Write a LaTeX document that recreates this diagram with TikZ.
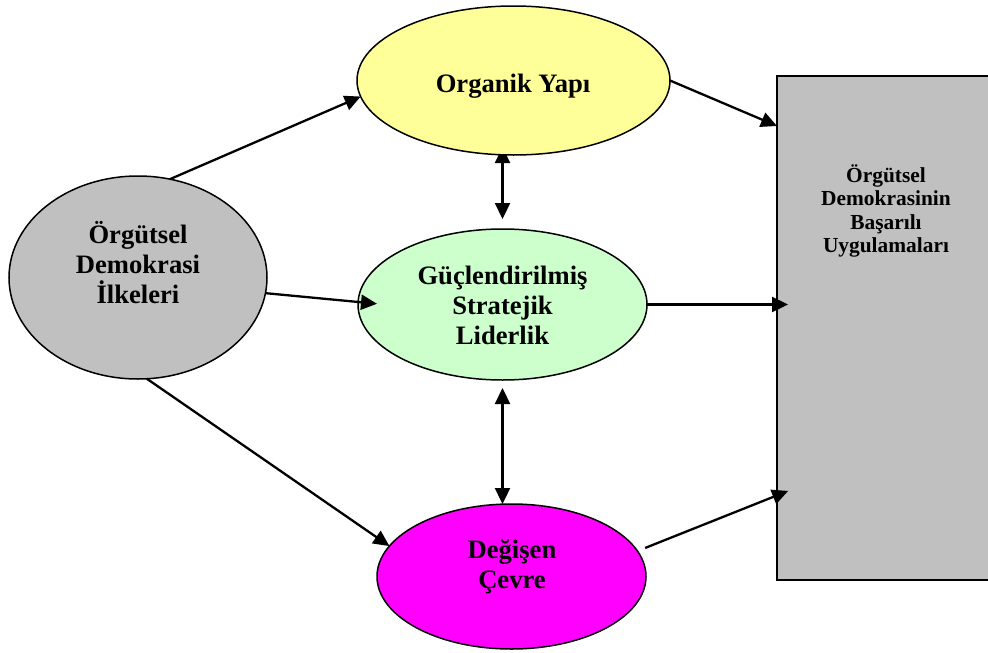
\documentclass[tikz,border=0pt]{standalone}
\usepackage{fontspec}
\setmainfont{Liberation Serif}
\usetikzlibrary{shapes.geometric,arrows.meta,backgrounds}
\definecolor{ilkegray}{HTML}{C0C0C0}
\definecolor{organikyellow}{HTML}{FFFF99}
\definecolor{liderlikgreen}{HTML}{CCFFCC}
\definecolor{cevremagenta}{HTML}{FF00FF}
\begin{document}
\begin{tikzpicture}[x=1pt,y=-1pt,
  bubble/.style={ellipse,draw=black,line width=1.5pt,inner sep=0pt,outer sep=0pt},
  caption/.style={font=\bfseries\fontsize{26.6}{30}\selectfont,align=center,inner sep=0pt},
  smallcaption/.style={font=\bfseries\fontsize{21.4}{23.5}\selectfont,align=center,inner sep=0pt},
  link/.style={line width=2.3pt,-{Triangle[length=16pt,width=15pt]}},
  twoway/.style={line width=2.3pt,{Triangle[length=16pt,width=15pt]}-{Triangle[length=16pt,width=15pt]}}]
\useasboundingbox (0,0) rectangle (988,653);

% ellipses
\node[bubble,fill=ilkegray,minimum width=258pt,minimum height=203pt] (ilke) at (138,277.5) {};
\node[bubble,fill=organikyellow,minimum width=313pt,minimum height=149pt] (organik) at (513.5,80.5) {};
\node[bubble,fill=liderlikgreen,minimum width=289pt,minimum height=151pt] (liderlik) at (502.5,304.5) {};
\node[bubble,fill=cevremagenta,minimum width=269pt,minimum height=145pt] (cevre) at (511.5,576.5) {};

% outcome box, running past the right edge
\node[draw=black,line width=2pt,fill=ilkegray,minimum width=218pt,minimum height=504pt,
      inner sep=0pt,outer sep=0pt,anchor=north west] (basari) at (777,76) {};

% texts
\node[caption] (ilketext) at (138,263) {Örgütsel\\Demokrasi\\İlkeleri};
\node[caption] (organiktext) at (513,86) {Organik Yapı};
\node[caption] (lidertext) at (502.5,305) {Güçlendirilmiş\\Stratejik\\Liderlik};
\node[caption] (cevretext) at (512,566.5) {Değişen\\Çevre};
\node[smallcaption] (basaritext) at (886,211) {Örgütsel\\Demokrasinin\\Başarılı\\Uygulamaları};

% connectors
\draw[link] (ilke.72) -- (organik.186);
\draw[link,shorten >=-19pt] (ilke.353) -- (liderlik.179);
\draw[link] (ilke.275) -- (cevre.166);
\draw[link] (organik.east) -- ([yshift=-50pt]basari.north west);
\draw[link,shorten >=-11pt] (liderlik.east) -- (liderlik.east -| basari.west);
\draw[link,shorten >=-12pt] ([xshift=10pt]cevre.13) -- ([yshift=-419.4pt]basari.north west);
\draw[twoway] ([yshift=-8pt]liderlik.south) -- (liderlik.south |- cevre.north);
\begin{scope}[on background layer]
  \draw[twoway,shorten <=-8pt] (liderlik.north |- organik.south) -- ([yshift=10pt]liderlik.north);
\end{scope}
\end{tikzpicture}
\end{document}
